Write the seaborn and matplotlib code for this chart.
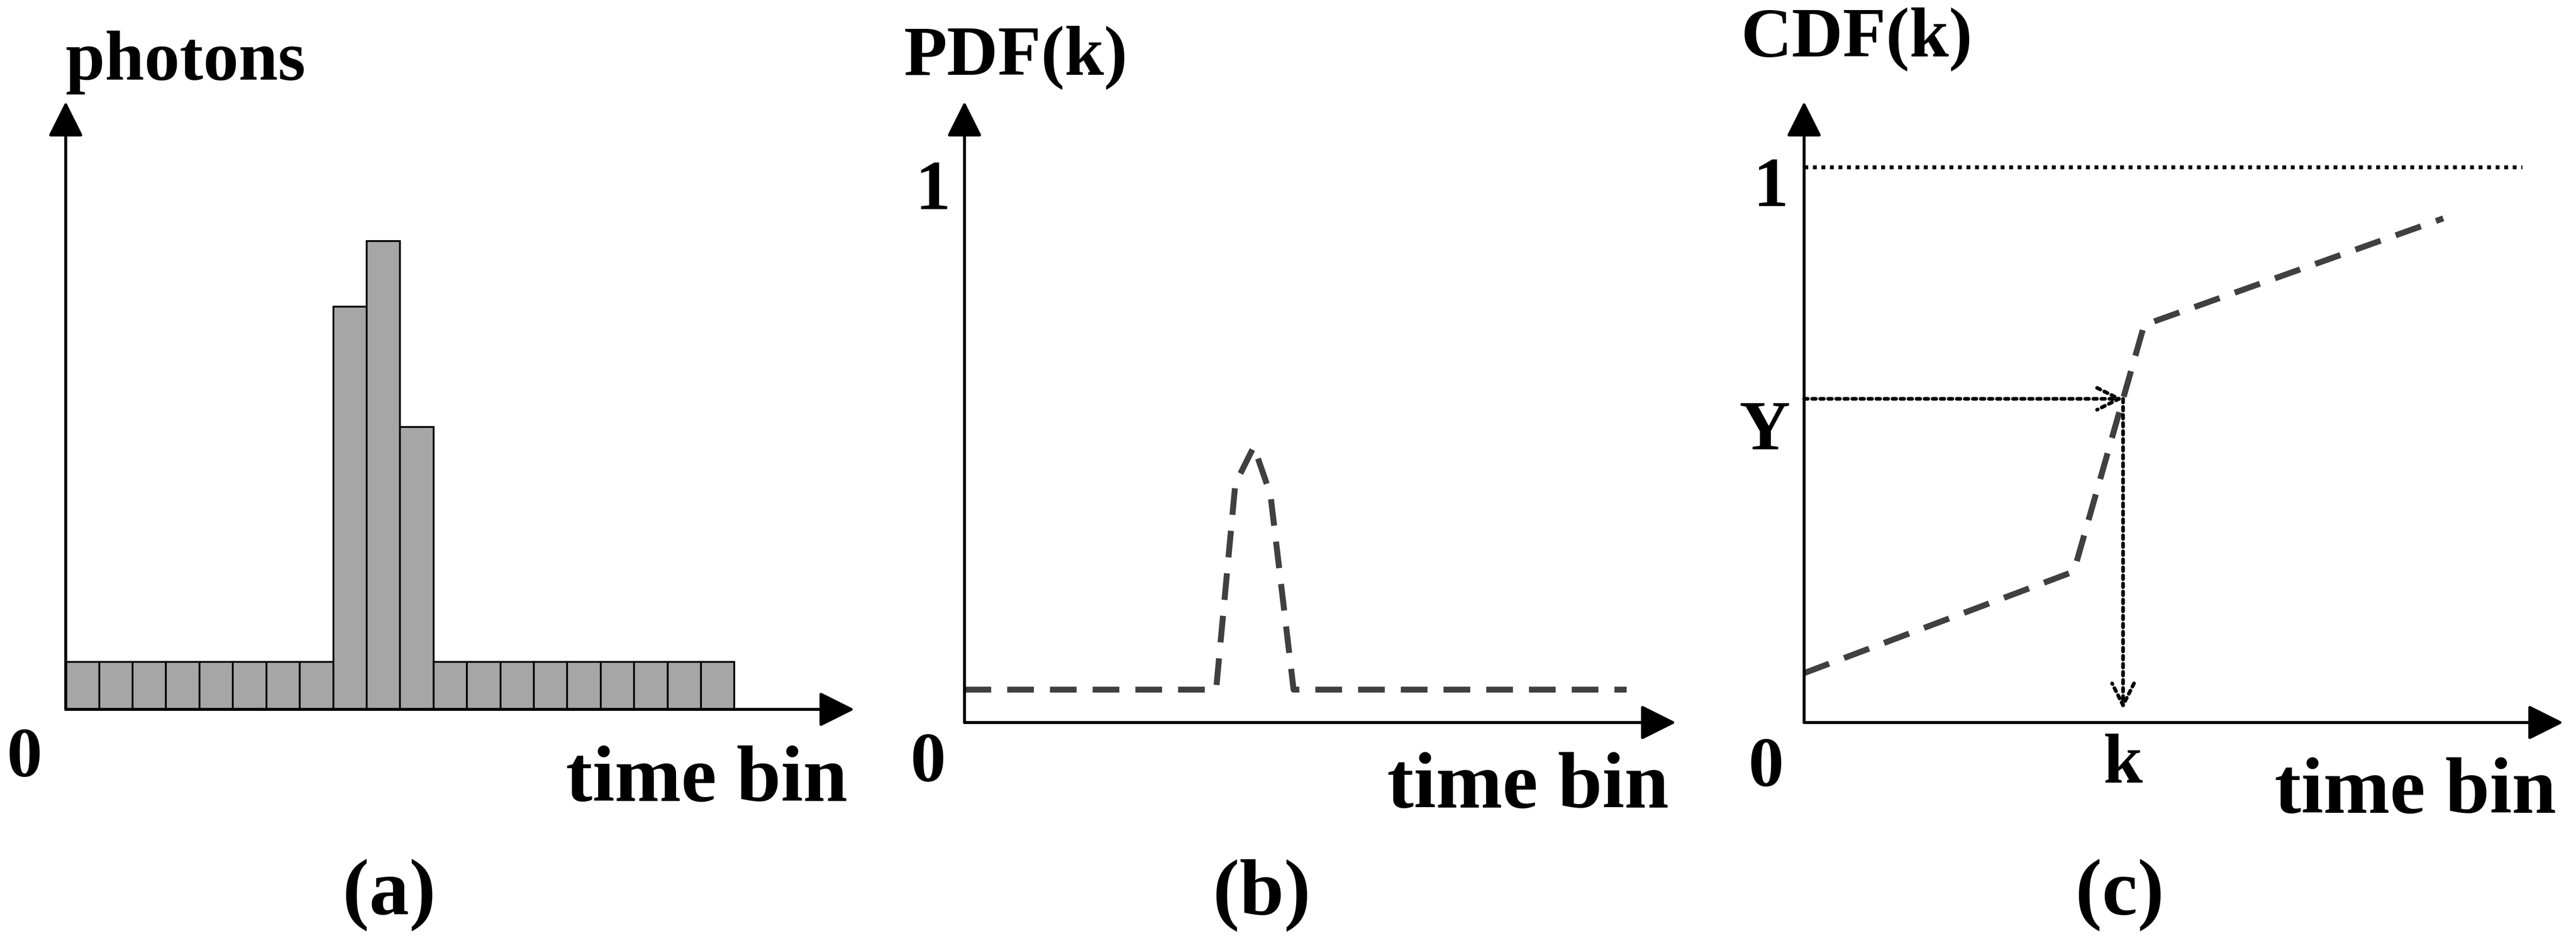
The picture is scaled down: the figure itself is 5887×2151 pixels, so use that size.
import matplotlib
matplotlib.use("Agg")
import matplotlib.pyplot as plt
import seaborn as sns
import numpy as np
import pandas as pd

sns.set_theme(style="white")
plt.rcParams['font.family'] = ['Liberation Serif', 'DejaVu Serif']
plt.rcParams['font.weight'] = 'bold'
plt.rcParams['text.color'] = 'black'

# ---- data ----
photon_counts = [1, 1, 1, 1, 1, 1, 1, 1, 8.45, 9.83, 5.93, 1, 1, 1, 1, 1, 1, 1, 1, 1]
pdf_x = [0.0, 0.38, 0.409, 0.437, 0.462, 0.497, 1.0]
pdf_y = [0.062, 0.062, 0.45, 0.52, 0.43, 0.062, 0.062]
cdf_x = [0.0, 0.422, 0.532, 1.0]
cdf_y = [0.089, 0.272, 0.716, 0.908]
y_level = 0.583
k_pos = 0.499
panel_labels = ["(a)", "(b)", "(c)"]

W, H = 1568, 573
fig = plt.figure(figsize=(15.68, 5.73), dpi=375.5)

def box(x0, x1, ytop, ybot):
    return fig.add_axes([x0 / W, 1 - ybot / H, (x1 - x0) / W, (ybot - ytop) / H])

FS = 35
AC = dict(arrowstyle="-|>,head_length=1.1,head_width=0.55", color="black", lw=1.3, shrinkA=0, shrinkB=0)

def axes_arrows(ax, xt, yt):
    ax.annotate("", xy=(xt, 0), xytext=(0, 0), arrowprops=AC, annotation_clip=False)
    ax.annotate("", xy=(0, yt), xytext=(0, 0), arrowprops=AC, annotation_clip=False)

# ---- panel a ----
axa = box(40, 530, 55, 432)
axa.set_xlim(0, 490 / 20.35); axa.set_ylim(0, 377 / 29)
axa.axis("off")
axa.bar(np.arange(len(photon_counts)) + 0.5, photon_counts, width=1.0,
        color="#a6a6a6", edgecolor="black", linewidth=0.8)
axes_arrows(axa, 480 / 20.35, 370 / 29)

# ---- panel b ----
axb = box(587, 1030, 55, 440)
unit_b = 323
axb.set_xlim(0, 443 / 403); axb.set_ylim(0, 385 / unit_b)
axb.axis("off")
sns.lineplot(x=pdf_x, y=pdf_y, ax=axb, color="#404040", lw=2.6, sort=False,
             dashes=False, estimator=None)
axb.lines[-1].set_dashes([4.5, 2.7])
axes_arrows(axb, 433 / 403, 378 / unit_b)

# ---- panel c ----
axc = box(1098, 1568, 55, 440)
unit_c = 338
axc.set_xlim(0, 470 / 389); axc.set_ylim(0, 385 / unit_c)
axc.axis("off")
sns.lineplot(x=cdf_x, y=cdf_y, ax=axc, color="#404040", lw=2.6, sort=False,
             dashes=False, estimator=None)
axc.lines[-1].set_dashes([4.5, 2.7])
axes_arrows(axc, 462 / 389, 378 / unit_c)
axc.plot([0, 437 / 389], [1, 1], color="black", lw=1.7, ls=(0, (1, 1.2)), clip_on=False)
DA = dict(arrowstyle="->,head_length=0.8,head_width=0.4", color="black", lw=1.6,
          linestyle=(0, (1, 1.2)), shrinkA=0, shrinkB=0)
axc.annotate("", xy=(k_pos, y_level), xytext=(0, y_level), arrowprops=DA)
axc.annotate("", xy=(k_pos, 8 / unit_c), xytext=(k_pos, y_level), arrowprops=DA)

# ---- text (pixel coords) ----
def txt(x, y, s, size=FS, ha="center"):
    fig.text(x / W, 1 - y / H, s, fontsize=size, fontweight="bold", ha=ha, va="center",
             color="black")

txt(113, 38, "photons", 31)
txt(15, 462, "0", 31)
txt(430, 476, "time bin")
txt(237, 545, panel_labels[0])

txt(618, 35, "PDF(k)", 31)
txt(568, 117, "1", 31)
txt(565, 465, "0", 31)
txt(930, 480, "time bin")
txt(768, 545, panel_labels[1])

txt(1130, 24, "CDF(k)", 31)
txt(1078, 115, "1", 31)
txt(1074, 263, "Y", 31)
txt(1075, 468, "0", 31)
txt(1292, 466, "k", 31)
txt(1470, 483, "time bin")
txt(1290, 545, panel_labels[2])

fig.savefig("out.png", dpi=375.5)
